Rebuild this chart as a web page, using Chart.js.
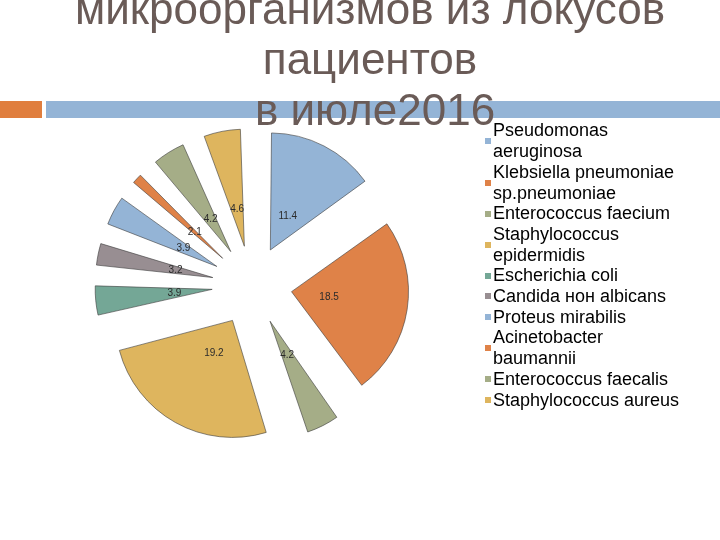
<!DOCTYPE html>
<html>
<head>
<meta charset="utf-8">
<script src="https://cdn.jsdelivr.net/npm/chart.js@4.4.0/dist/chart.umd.min.js"></script>
<style>
  html,body{margin:0;padding:0;background:#fff;}
  body{width:720px;height:540px;overflow:hidden;position:relative;font-family:"Liberation Sans",Arial,sans-serif;}
  #barO{position:absolute;left:0;top:101px;width:42px;height:17px;background:#E07E3E;}
  #barB{position:absolute;left:46px;top:101px;width:674px;height:17px;background:#94B4D6;}
  #c{position:absolute;left:0;top:0;}
  #title{position:absolute;left:70px;width:600px;top:-16.5px;text-align:center;color:#6A5B57;
         font-size:44px;line-height:50.5px;}
  #title div:nth-child(3){position:relative;left:5px;}
  #legend{position:absolute;left:485px;top:120.4px;font-size:18px;line-height:20.7px;color:#000;}
  .item{display:flex;align-items:center;}
  .sw{width:6px;height:6px;margin-right:2px;flex:none;}
  .txt{white-space:pre-line;}
</style>
</head>
<body>
<div id="barO"></div>
<div id="barB"></div>
<canvas id="c" width="720" height="540"></canvas>
<div id="title"></div>
<div id="legend"></div>
<script>
const titleLines = ["микроорганизмов из локусов", "пациентов", "в июле2016"];
const categories = [
  "Pseudomonas\naeruginosa",
  "Klebsiella pneumoniae\nsp.pneumoniae",
  "Enterococcus faecium",
  "Staphylococcus\nepidermidis",
  "Escherichia coli",
  "Candida нон albicans",
  "Proteus mirabilis",
  "Acinetobacter\nbaumannii",
  "Enterococcus faecalis",
  "Staphylococcus aureus"
];
const values = [11.4, 18.5, 4.2, 19.2, 3.9, 3.2, 3.9, 2.1, 4.2, 4.6];
const colors = ["#94B4D6","#DF8248","#A5AD87","#DEB55E","#74A796","#988E92","#94B4D6","#DF8248","#A5AD87","#DEB55E"];

const RADIUS = 117;   // slice radius
const SHIFT = 40;     // explode distance
const LABEL_DIST = 38;

const tdiv = document.getElementById('title');
titleLines.forEach(t=>{ const d=document.createElement('div'); d.textContent=t; tdiv.appendChild(d); });
const leg = document.getElementById('legend');
categories.forEach((c,i)=>{
  const it = document.createElement('div'); it.className='item';
  const sw = document.createElement('span'); sw.className='sw'; sw.style.background = colors[i];
  const tx = document.createElement('span'); tx.className='txt'; tx.textContent = c;
  it.appendChild(sw); it.appendChild(tx); leg.appendChild(it);
});

const explodeFix = {
  id:'explodeFix',
  beforeDatasetsDraw(chart){
    chart.getDatasetMeta(0).data.forEach(arc=>{
      const fix = 1 - Math.sin(Math.min(Math.PI, arc.circumference||0));
      arc.outerRadius = RADIUS - SHIFT*fix;
    });
  }
};
const sliceLabels = {
  id:'sliceLabels',
  afterDatasetsDraw(chart){
    const ctx = chart.ctx;
    const ds = chart.data.datasets[0];
    ctx.save();
    ctx.font = '10px "Liberation Sans", Arial, sans-serif';
    ctx.fillStyle = '#2b2b2b';
    ctx.textAlign = 'center';
    ctx.textBaseline = 'middle';
    chart.getDatasetMeta(0).data.forEach((arc,i)=>{
      const mid = (arc.startAngle + arc.endAngle)/2;
      const d = SHIFT + LABEL_DIST;
      ctx.fillText(String(ds.data[i]), arc.x + Math.cos(mid)*d, arc.y + Math.sin(mid)*d);
    });
    ctx.restore();
  }
};

new Chart(document.getElementById('c'), {
  type:'pie',
  data:{
    labels: categories,
    datasets:[{
      data: values,
      backgroundColor: colors,
      borderColor: 'rgba(60,60,60,0.6)',
      borderWidth: 1,
      offset: SHIFT*4
    }]
  },
  options:{
    responsive:false,
    devicePixelRatio:1,
    animation:false,
    radius: RADIUS,
    layout:{padding:{left:0,right:216,top:31,bottom:0}},
    plugins:{legend:{display:false},tooltip:{enabled:false},title:{display:false}}
  },
  plugins:[explodeFix, sliceLabels]
});
</script>
</body>
</html>
